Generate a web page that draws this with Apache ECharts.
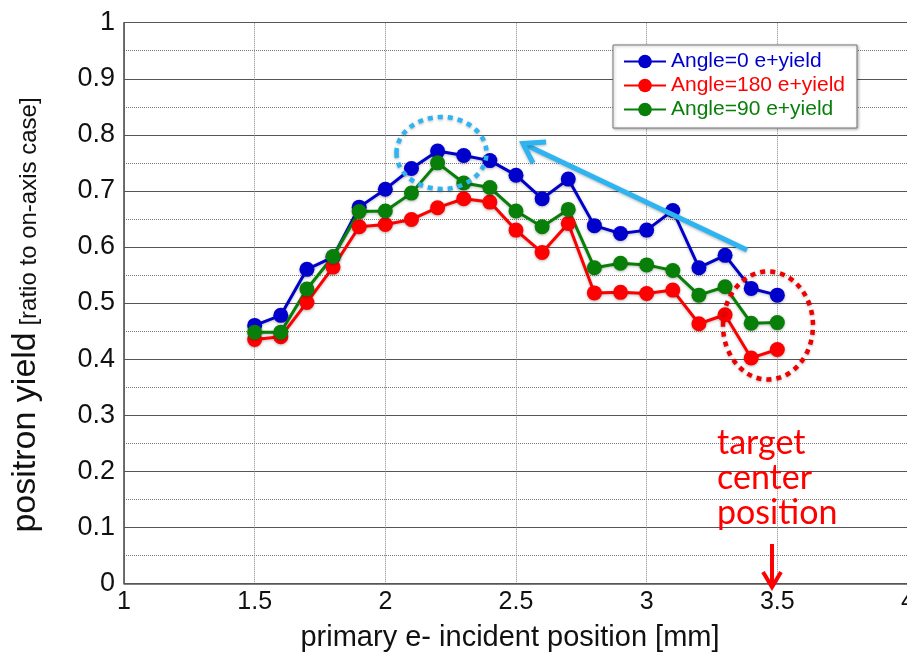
<!DOCTYPE html>
<html>
<head>
<meta charset="utf-8">
<script src="https://cdn.jsdelivr.net/npm/echarts@6/dist/echarts.min.js"></script>
<style>
  html, body { margin: 0; padding: 0; background: #fff; }
  #chart { width: 907px; height: 652px; }
</style>
</head>
<body>
<div id="chart"></div>
<script>
// incident positions [mm]
const positions = [1.5, 1.6, 1.7, 1.8, 1.9, 2.0, 2.1, 2.2, 2.3, 2.4, 2.5,
  2.6, 2.7, 2.8, 2.9, 3.0, 3.1, 3.2, 3.3, 3.4, 3.5];

const angle0 = [0.460, 0.478, 0.560, 0.582, 0.671, 0.703, 0.740, 0.771, 0.763, 0.754, 0.728,
  0.686, 0.721, 0.638, 0.624, 0.630, 0.665, 0.563, 0.585, 0.526, 0.514];
const angle180 = [0.435, 0.440, 0.501, 0.564, 0.636, 0.640, 0.649, 0.670, 0.686, 0.680, 0.630,
  0.590, 0.642, 0.518, 0.519, 0.517, 0.523, 0.463, 0.479, 0.402, 0.417];
const angle90 = [0.448, 0.448, 0.525, 0.583, 0.663, 0.664, 0.696, 0.750, 0.714, 0.706, 0.664,
  0.636, 0.667, 0.563, 0.571, 0.568, 0.558, 0.514, 0.529, 0.464, 0.465];

const seriesNames = ['Angle=0 e+yield', 'Angle=180 e+yield', 'Angle=90 e+yield'];
const seriesColors = ['#0000cc', '#ff0000', '#087f08'];

const xTicks = [1, 1.5, 2, 2.5, 3, 3.5, 4];
const yTicks = [0, 0.1, 0.2, 0.3, 0.4, 0.5, 0.6, 0.7, 0.8, 0.9, 1];

const pairs = (ys) => positions.map((x, i) => [x, ys[i]]);

const chart = echarts.init(document.getElementById('chart'), null, { renderer: 'canvas' });

const sans = 'Liberation Sans, Arial, sans-serif';

function makeSeries(name, data, color) {
  return {
    name: name,
    type: 'line',
    data: pairs(data),
    symbol: 'circle',
    symbolSize: 15,
    lineStyle: { color: color, width: 3, shadowColor: 'rgba(0,0,0,0.25)', shadowBlur: 3, shadowOffsetY: 1 },
    itemStyle: { color: color, shadowColor: 'rgba(0,0,0,0.3)', shadowBlur: 3, shadowOffsetY: 1 },
    emphasis: { disabled: true },
    animation: false
  };
}

const option = {
  animation: false,
  grid: { left: 124, top: 22.7, right: -1, bottom: 68.7, outerBoundsMode: 'none' },
  xAxis: {
    type: 'value',
    min: xTicks[0],
    max: xTicks[xTicks.length - 1],
    interval: 0.5,
    name: 'primary e- incident position [mm]',
    nameLocation: 'middle',
    nameGap: 40,
    nameTextStyle: { fontFamily: sans, fontSize: 29, color: '#111', padding: [0, 12, 0, 0] },
    axisLine: { lineStyle: { color: '#555', width: 1.5 } },
    axisTick: { show: false },
    axisLabel: { margin: 6, fontFamily: sans, fontSize: 25, color: '#111', hideOverlap: false },
    splitLine: { show: true, lineStyle: { color: '#888', type: 'dotted', width: 1 } }
  },
  yAxis: {
    type: 'value',
    min: yTicks[0],
    max: yTicks[yTicks.length - 1],
    interval: 0.1,
    axisLine: { show: true, lineStyle: { color: '#444', width: 1.5 } },
    axisTick: { show: false },
    axisLabel: { margin: 9, fontFamily: sans, fontSize: 27, color: '#111' },
    splitLine: { show: true, lineStyle: { color: '#555', width: 1.2 } },
    minorTick: { show: false, splitNumber: 2 },
    minorSplitLine: { show: true, lineStyle: { color: '#777', type: 'dotted', width: 1 } }
  },
  legend: {
    orient: 'vertical',
    left: 613,
    top: 45,
    padding: [6, 12, 8, 10],
    itemGap: 3,
    itemWidth: 42,
    itemHeight: 17,
    backgroundColor: '#fff',
    borderColor: '#777',
    borderWidth: 1,
    shadowColor: 'rgba(0,0,0,0.3)',
    shadowBlur: 3,
    shadowOffsetX: 1,
    shadowOffsetY: 1,
    textStyle: { fontFamily: sans, fontSize: 21 },
    data: seriesNames.map((n, i) => ({ name: n, textStyle: { color: seriesColors[i] } }))
  },
  series: [
    makeSeries(seriesNames[0], angle0, seriesColors[0]),
    makeSeries(seriesNames[1], angle180, seriesColors[1]),
    makeSeries(seriesNames[2], angle90, seriesColors[2])
  ],
  graphic: [
    {
      type: 'text',
      x: 43, y: 315,
      rotation: Math.PI / 2,
      style: {
        text: '{a|positron yield}  {b|[ratio to on-axis case]}',
        align: 'center',
        verticalAlign: 'bottom',
        rich: {
          a: { fontFamily: sans, fontSize: 34, fill: '#111', verticalAlign: 'bottom' },
          b: { fontFamily: sans, fontSize: 24, fill: '#111', verticalAlign: 'bottom', padding: [0, 0, 2, 0] }
        }
      },
      z: 10
    },
    {
      type: 'ellipse',
      shape: { cx: 441.5, cy: 153, rx: 45, ry: 36 },
      style: { fill: 'none', stroke: '#2fb4f2', lineWidth: 4.5, lineDash: [5, 5],
        shadowColor: 'rgba(0,0,0,0.3)', shadowBlur: 3, shadowOffsetY: 1 },
      z: 20
    },
    {
      type: 'ellipse',
      shape: { cx: 768, cy: 325.5, rx: 45, ry: 54 },
      style: { fill: 'none', stroke: '#ee0000', lineWidth: 4.5, lineDash: [5, 5],
        shadowColor: 'rgba(0,0,0,0.3)', shadowBlur: 3, shadowOffsetY: 1 },
      z: 20
    },
    {
      type: 'line',
      shape: { x1: 747, y1: 250, x2: 524, y2: 144 },
      style: { stroke: '#2fb4f2', lineWidth: 5, shadowColor: 'rgba(0,0,0,0.3)', shadowBlur: 3, shadowOffsetY: 1 },
      z: 20
    },
    {
      type: 'polyline',
      shape: { points: [[546, 142], [523, 143.5], [533, 163]] },
      style: { fill: 'none', stroke: '#2fb4f2', lineWidth: 5, lineJoin: 'miter', shadowColor: 'rgba(0,0,0,0.3)', shadowBlur: 3, shadowOffsetY: 1 },
      z: 20
    },
    {
      type: 'text',
      x: 717, y: 426,
      style: {
        text: 'target\ncenter\nposition',
        fontFamily: 'Lato, Open Sans, sans-serif',
        fontSize: 34,
        lineHeight: 35,
        fill: '#ff0000'
      },
      z: 20
    },
    {
      type: 'line',
      shape: { x1: 772, y1: 544, x2: 772, y2: 586 },
      style: { stroke: '#ff0000', lineWidth: 4 },
      z: 20
    },
    {
      type: 'polyline',
      shape: { points: [[763, 572], [772, 587], [781, 572]] },
      style: { fill: 'none', stroke: '#ff0000', lineWidth: 4, lineJoin: 'miter' },
      z: 20
    }
  ]
};

chart.setOption(option);
window.addEventListener('resize', chart.resize);
</script>
</body>
</html>
